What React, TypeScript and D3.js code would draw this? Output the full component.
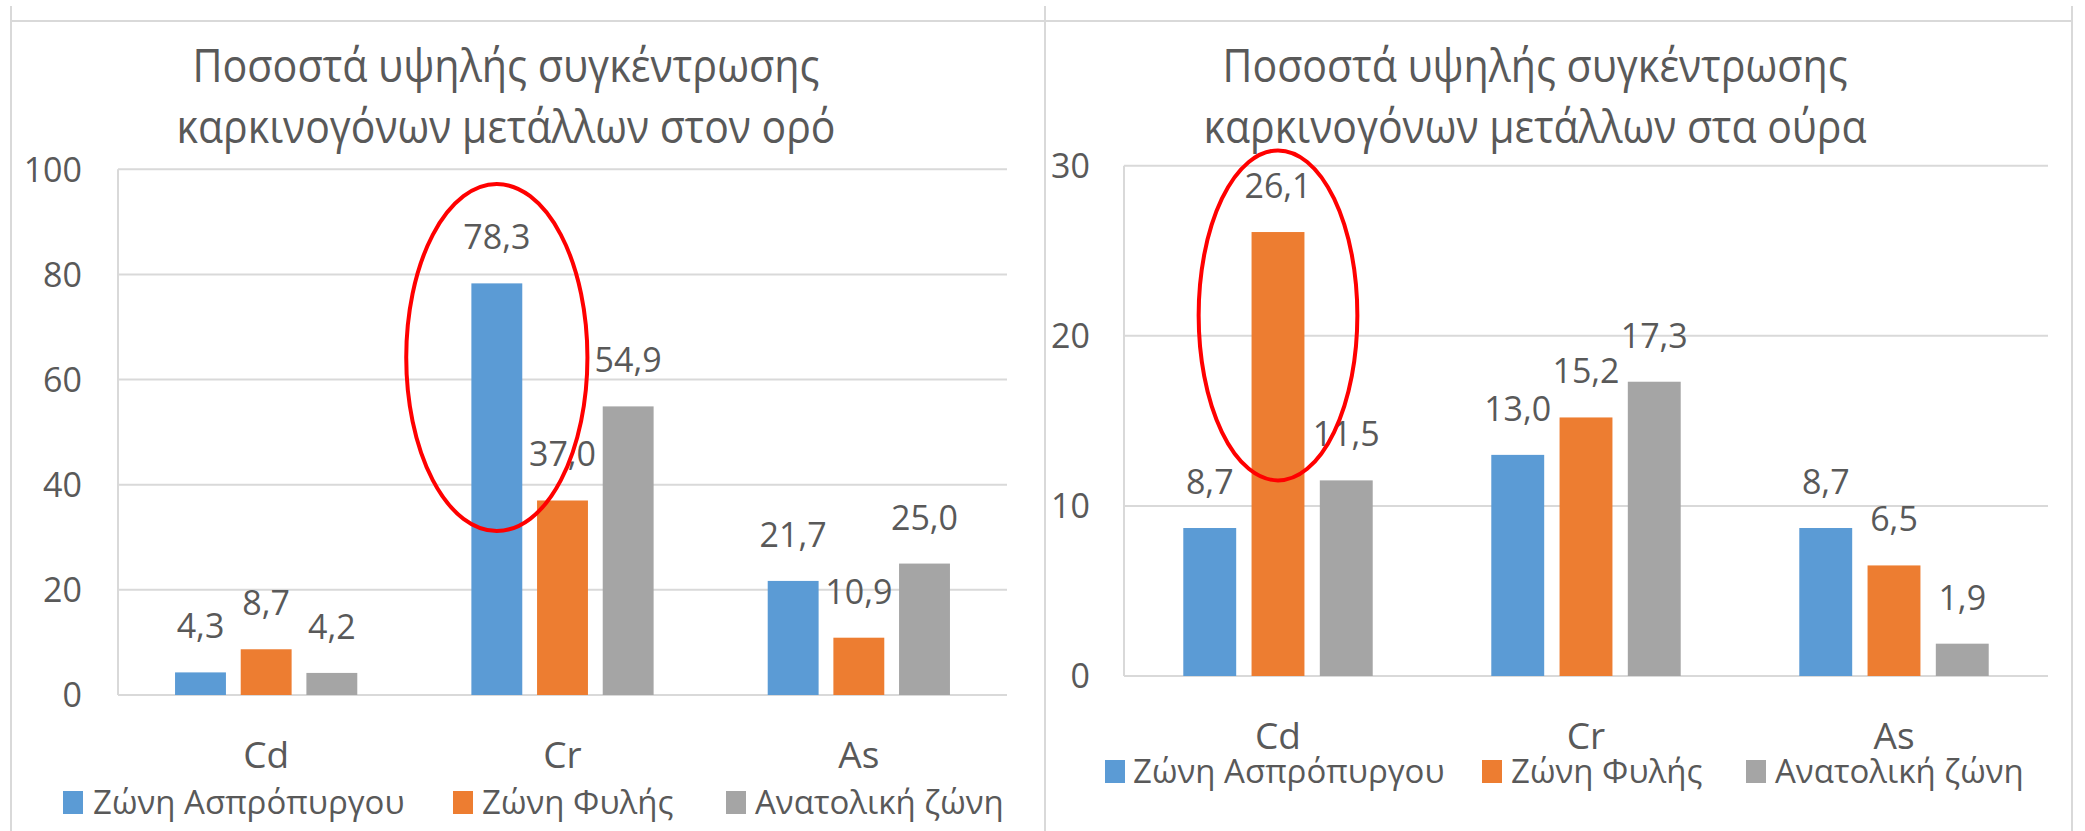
import React from "react";
import * as d3 from "d3";

// ---------- DATA ----------
const categories = ["Cd", "Cr", "As"];
const seriesNames = ["Ζώνη Ασπρόπυργου", "Ζώνη Φυλής", "Ανατολική ζώνη"];
const seriesColors = ["#5B9BD5", "#ED7D31", "#A5A5A5"];

const serumAspropyrgos = [4.3, 78.3, 21.7];
const serumFyli = [8.7, 37.0, 10.9];
const serumEast = [4.2, 54.9, 25.0];
const serumTicks = [0, 20, 40, 60, 80, 100];
const serumTitle = ["Ποσοστά υψηλής συγκέντρωσης", "καρκινογόνων μετάλλων στον ορό"];

const urineAspropyrgos = [8.7, 13.0, 8.7];
const urineFyli = [26.1, 15.2, 6.5];
const urineEast = [11.5, 17.3, 1.9];
const urineTicks = [0, 10, 20, 30];
const urineTitle = ["Ποσοστά υψηλής συγκέντρωσης", "καρκινογόνων μετάλλων στα ούρα"];

// highlight annotations: category, series index, top value, bottom value
const serumHighlight = { category: "Cr", series: 0, top: 97.2, bottom: 31.2 };
const urineHighlight = { category: "Cd", series: 1, top: 30.9, bottom: 11.5 };

const TEXT = "#595959";
const GRID = "#D9D9D9";
const FONT = "'Open Sans', 'Noto Sans', sans-serif";

const fmt = (v: number) => d3.format(".1f")(v).replace(".", ",");

type PanelProps = {
  title: string[];
  titleX: number;
  titleWidths: number[];
  values: number[][];
  ticks: number[];
  x0: number;
  x1: number;
  yTop: number;
  yBottom: number;
  tickRight: number;
  catBaseline: number;
  legendBaseline: number;
  legendSquareX: number[];
  legendTextX: number[];
  highlight: { category: string; series: number; top: number; bottom: number };
  rxFactor: number;
};

function Panel(p: PanelProps) {
  const y = d3
    .scaleLinear()
    .domain([0, p.ticks[p.ticks.length - 1]])
    .range([p.yBottom, p.yTop]);
  const xOuter = d3
    .scaleBand<string>()
    .domain(categories)
    .range([p.x0, p.x1])
    .paddingInner(0.385)
    .paddingOuter(0.1925);
  const xInner = d3
    .scaleBand<string>()
    .domain(seriesNames)
    .range([0, xOuter.bandwidth()])
    .paddingInner(0.225);

  const hx =
    (xOuter(p.highlight.category) ?? 0) +
    (xInner(seriesNames[p.highlight.series]) ?? 0) +
    xInner.bandwidth() / 2;
  const hTop = y(p.highlight.top);
  const hBot = y(p.highlight.bottom);

  return (
    <g>
      {p.title.map((t, i) => (
        <text
          key={i}
          x={p.titleX}
          y={82 + i * 61}
          textAnchor="middle"
          fontSize={45}
          fill={TEXT}
          fontFamily={FONT}
          textLength={p.titleWidths[i]}
          lengthAdjust="spacingAndGlyphs"
        >
          {t}
        </text>
      ))}
      {p.ticks.map((t) => (
        <g key={t}>
          <line x1={p.x0} x2={p.x1} y1={y(t)} y2={y(t)} stroke={GRID} strokeWidth={2} />
          <text
            x={p.tickRight}
            y={y(t)}
            dy="0.36em"
            textAnchor="end"
            fontSize={34}
            fill={TEXT}
            fontFamily={FONT}
          >
            {t}
          </text>
        </g>
      ))}
      <line x1={p.x0} x2={p.x0} y1={y(p.ticks[p.ticks.length - 1])} y2={p.yBottom} stroke={GRID} strokeWidth={2} />
      {categories.map((c, ci) => (
        <g key={c}>
          {seriesNames.map((s, si) => {
            const v = p.values[si][ci];
            const bx = (xOuter(c) ?? 0) + (xInner(s) ?? 0);
            return (
              <g key={s}>
                <rect
                  x={bx}
                  y={y(v)}
                  width={xInner.bandwidth()}
                  height={y(0) - y(v)}
                  fill={seriesColors[si]}
                />
                <text
                  x={bx + xInner.bandwidth() / 2}
                  y={y(v) - 34}
                  textAnchor="middle"
                  fontSize={34}
                  fill={TEXT}
                  fontFamily={FONT}
                >
                  {fmt(v)}
                </text>
              </g>
            );
          })}
          <text
            x={(xOuter(c) ?? 0) + xOuter.bandwidth() / 2}
            y={p.catBaseline}
            textAnchor="middle"
            fontSize={37}
            fill={TEXT}
            fontFamily={FONT}
          >
            {c}
          </text>
        </g>
      ))}
      {seriesNames.map((s, si) => (
        <g key={s}>
          <rect
            x={p.legendSquareX[si]}
            y={p.legendBaseline - 23}
            width={20}
            height={23}
            fill={seriesColors[si]}
          />
          <text
            x={p.legendTextX[si]}
            y={p.legendBaseline}
            fontSize={33}
            fill={TEXT}
            fontFamily={FONT}
          >
            {s}
          </text>
        </g>
      ))}
      <ellipse
        cx={hx}
        cy={(hTop + hBot) / 2}
        rx={xInner.bandwidth() * p.rxFactor}
        ry={(hBot - hTop) / 2}
        fill="none"
        stroke="#FF0000"
        strokeWidth={4}
      />
    </g>
  );
}

export default function App() {
  return (
    <svg
      width={2085}
      height={831}
      style={{ position: "absolute", left: 0, top: 0, background: "#fff" }}
    >
      <rect x={0} y={0} width={2085} height={831} fill="#fff" />
      <line x1={11} x2={2072} y1={21} y2={21} stroke={GRID} strokeWidth={2} />
      <line x1={11} x2={11} y1={6} y2={831} stroke={GRID} strokeWidth={2} />
      <line x1={1045} x2={1045} y1={6} y2={831} stroke={GRID} strokeWidth={2} />
      <line x1={2072} x2={2072} y1={6} y2={831} stroke={GRID} strokeWidth={2} />
      <Panel
        title={serumTitle}
        titleX={506}
        titleWidths={[627, 659]}
        values={[serumAspropyrgos, serumFyli, serumEast]}
        ticks={serumTicks}
        x0={118}
        x1={1007}
        yTop={169.3}
        yBottom={695}
        tickRight={82}
        catBaseline={768}
        legendBaseline={814}
        legendSquareX={[63, 453, 726]}
        legendTextX={[93, 482, 755]}
        highlight={serumHighlight}
        rxFactor={1.78}
      />
      <Panel
        title={urineTitle}
        titleX={1535}
        titleWidths={[625, 663]}
        values={[urineAspropyrgos, urineFyli, urineEast]}
        ticks={urineTicks}
        x0={1124}
        x1={2048}
        yTop={165.7}
        yBottom={676}
        tickRight={1090}
        catBaseline={749}
        legendBaseline={783}
        legendSquareX={[1105, 1482, 1746]}
        legendTextX={[1133, 1511, 1775]}
        highlight={urineHighlight}
        rxFactor={1.5}
      />
    </svg>
  );
}
